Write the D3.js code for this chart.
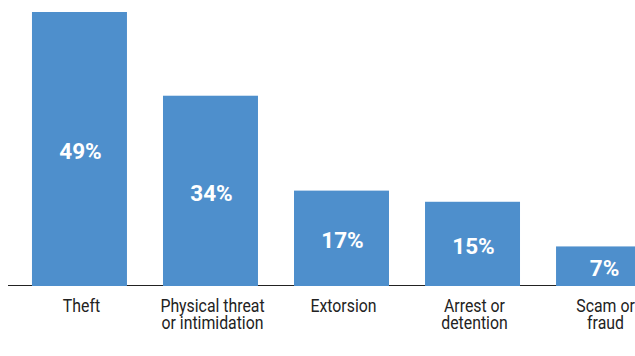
<!DOCTYPE html>
<html>
<head>
<meta charset="utf-8">
<script src="https://cdn.jsdelivr.net/npm/d3@7"></script>
<style>
  body { margin: 0; background: #fff; }
  svg { display: block; }
</style>
</head>
<body>
<svg id="chart" width="635" height="356"></svg>
<script>
// data
var categories = ["Theft", "Physical threat|or intimidation", "Extorsion", "Arrest or|detention", "Scam or|fraud"];
var values = [49, 34, 17, 15, 7];
var valueLabels = ["49%", "34%", "17%", "15%", "7%"];

var width = 635, height = 356;
var baseline = 285.5;
var barColor = "#4e8fcc";

var svg = d3.select("#chart");

var x = d3.scaleBand()
    .domain(categories)
    .range([8, 675])
    .paddingInner(0.275)
    .paddingOuter(0.183);

var y = d3.scaleLinear()
    .domain([0, 49])
    .range([baseline, 12]);

// baseline axis
svg.append("line")
    .attr("x1", 8).attr("x2", width)
    .attr("y1", baseline).attr("y2", baseline)
    .attr("stroke", "#222")
    .attr("stroke-width", 1.2);

var bars = svg.selectAll("g.bar")
    .data(categories)
    .enter()
    .append("g")
    .attr("class", "bar");

bars.append("rect")
    .attr("x", function(d) { return x(d); })
    .attr("width", x.bandwidth())
    .attr("y", function(d, i) { return y(values[i]); })
    .attr("height", function(d, i) { return baseline + 0.5 - y(values[i]); })
    .attr("fill", barColor);

// value labels inside the bars
bars.append("text")
    .attr("x", function(d) { return x(d) + x.bandwidth() / 2 + 1; })
    .attr("y", function(d, i) { return (y(values[i]) + baseline) / 2 + 2; })
    .attr("text-anchor", "middle")
    .attr("dominant-baseline", "central")
    .attr("fill", "#fff")
    .style("font-family", "Roboto, sans-serif")
    .style("font-weight", "bold")
    .style("font-size", "22.5px")
    .text(function(d, i) { return valueLabels[i]; });

// category labels (slightly condensed)
bars.each(function(d) {
    var cx = x(d) + x.bandwidth() / 2 + 2;
    var t = d3.select(this).append("text")
        .attr("transform", "translate(" + cx + ",0) scale(0.88,1)")
        .attr("text-anchor", "middle")
        .attr("fill", "#222")
        .style("font-family", "Roboto, sans-serif")
        .style("font-size", "18px");
    d.split("|").forEach(function(line, k) {
        t.append("tspan")
            .attr("x", 0)
            .attr("y", 312.5 + k * 16.5)
            .text(line);
    });
});
</script>
</body>
</html>
